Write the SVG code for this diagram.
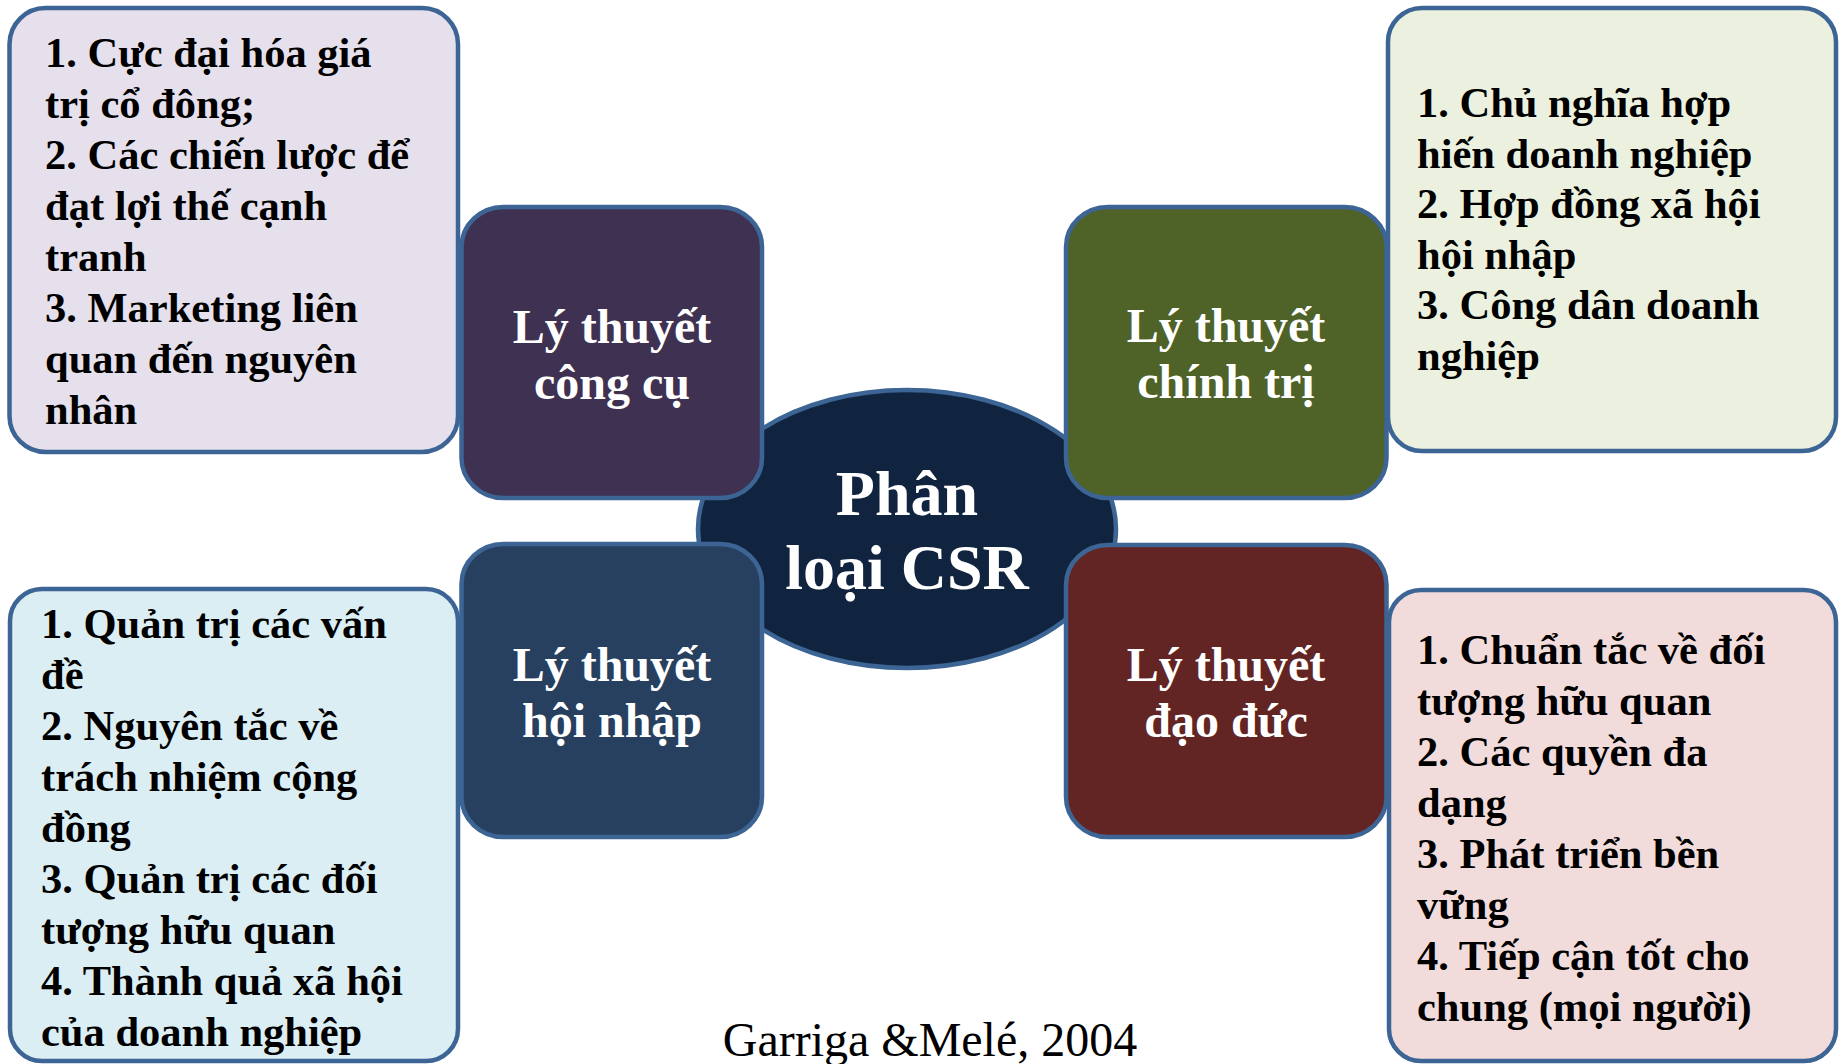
<svg xmlns="http://www.w3.org/2000/svg" width="1841" height="1064" viewBox="0 0 1841 1064">
  <style>
    .box { stroke: #3C6494; stroke-width: 4.5; }
    .list { font-family: "Liberation Serif", "Times New Roman", serif; font-weight: bold; font-size: 42.5px; fill: #000000; }
    .label { font-family: "Liberation Serif", "Times New Roman", serif; font-weight: bold; font-size: 48px; fill: #FFFFFF; text-anchor: middle; }
    .hub { font-family: "Liberation Serif", "Times New Roman", serif; font-weight: bold; font-size: 64px; fill: #FFFFFF; text-anchor: middle; }
    .cite { font-family: "Liberation Serif", "Times New Roman", serif; font-size: 48px; fill: #000000; text-anchor: middle; }
  </style>
  <rect width="1841" height="1064" fill="#FFFFFF"/>

  <!-- central hub -->
  <g id="hub">
    <ellipse class="box" cx="907" cy="529" rx="209" ry="139" fill="#11243F"/>
    <text class="hub" x="907" y="515">Phân</text>
    <text class="hub" x="907" y="589">loại CSR</text>
  </g>

  <!-- theory groups -->
  <g id="instrumental">
    <rect class="box" x="461.5" y="207" width="300.5" height="291" rx="42" ry="40" fill="#3F3151"/>
    <text class="label" x="612" y="343">Lý thuyết</text>
    <text class="label" x="612" y="399">công cụ</text>
  </g>
  <g id="political">
    <rect class="box" x="1066" y="207" width="320.5" height="291" rx="42" ry="40" fill="#4F6228"/>
    <text class="label" x="1226" y="342">Lý thuyết</text>
    <text class="label" x="1226" y="398">chính trị</text>
  </g>
  <g id="integrative">
    <rect class="box" x="461.5" y="544" width="300.5" height="293" rx="42" ry="40" fill="#27405F"/>
    <text class="label" x="612" y="681">Lý thuyết</text>
    <text class="label" x="612" y="737">hội nhập</text>
  </g>
  <g id="ethical">
    <rect class="box" x="1066" y="545" width="320.5" height="292" rx="42" ry="40" fill="#632523"/>
    <text class="label" x="1226" y="681">Lý thuyết</text>
    <text class="label" x="1226" y="737">đạo đức</text>
  </g>

  <!-- detail lists -->
  <g id="instrumental-list">
    <rect class="box" x="9.5" y="8" width="448.5" height="444" rx="36" ry="36" fill="#E5E0EC"/>
    <text class="list" x="45">
      <tspan x="45" y="67">1. Cực đại hóa giá</tspan>
      <tspan x="45" y="118">trị cổ đông;</tspan>
      <tspan x="45" y="169">2. Các chiến lược để</tspan>
      <tspan x="45" y="220">đạt lợi thế cạnh</tspan>
      <tspan x="45" y="271">tranh</tspan>
      <tspan x="45" y="322">3. Marketing liên</tspan>
      <tspan x="45" y="373">quan đến nguyên</tspan>
      <tspan x="45" y="424">nhân</tspan>
    </text>
  </g>
  <g id="political-list">
    <rect class="box" x="1388" y="8" width="448" height="443" rx="34" ry="34" fill="#EBF1DE"/>
    <text class="list" x="1417">
      <tspan x="1417" y="117">1. Chủ nghĩa hợp</tspan>
      <tspan x="1417" y="167.5">hiến doanh nghiệp</tspan>
      <tspan x="1417" y="218">2. Hợp đồng xã hội</tspan>
      <tspan x="1417" y="268.5">hội nhập</tspan>
      <tspan x="1417" y="319">3. Công dân doanh</tspan>
      <tspan x="1417" y="370">nghiệp</tspan>
    </text>
  </g>
  <g id="integrative-list">
    <rect class="box" x="10" y="589" width="448" height="472" rx="32" ry="32" fill="#DBEEF4"/>
    <text class="list" x="41">
      <tspan x="41" y="638">1. Quản trị các vấn</tspan>
      <tspan x="41" y="689">đề</tspan>
      <tspan x="41" y="740">2. Nguyên tắc về</tspan>
      <tspan x="41" y="791">trách nhiệm cộng</tspan>
      <tspan x="41" y="842">đồng</tspan>
      <tspan x="41" y="893">3. Quản trị các đối</tspan>
      <tspan x="41" y="944">tượng hữu quan</tspan>
      <tspan x="41" y="995">4. Thành quả xã hội</tspan>
      <tspan x="41" y="1046">của doanh nghiệp</tspan>
    </text>
  </g>
  <g id="ethical-list">
    <rect class="box" x="1389" y="590" width="447" height="471" rx="32" ry="32" fill="#F2DCDB"/>
    <text class="list" x="1417">
      <tspan x="1417" y="664">1. Chuẩn tắc về đối</tspan>
      <tspan x="1417" y="715">tượng hữu quan</tspan>
      <tspan x="1417" y="766">2. Các quyền đa</tspan>
      <tspan x="1417" y="817">dạng</tspan>
      <tspan x="1417" y="868">3. Phát triển bền</tspan>
      <tspan x="1417" y="919">vững</tspan>
      <tspan x="1417" y="970">4. Tiếp cận tốt cho</tspan>
      <tspan x="1417" y="1021">chung (mọi người)</tspan>
    </text>
  </g>

  <!-- source note -->
  <g id="source">
    <text class="cite" x="930" y="1056">Garriga &amp;Melé, 2004</text>
  </g>
</svg>
